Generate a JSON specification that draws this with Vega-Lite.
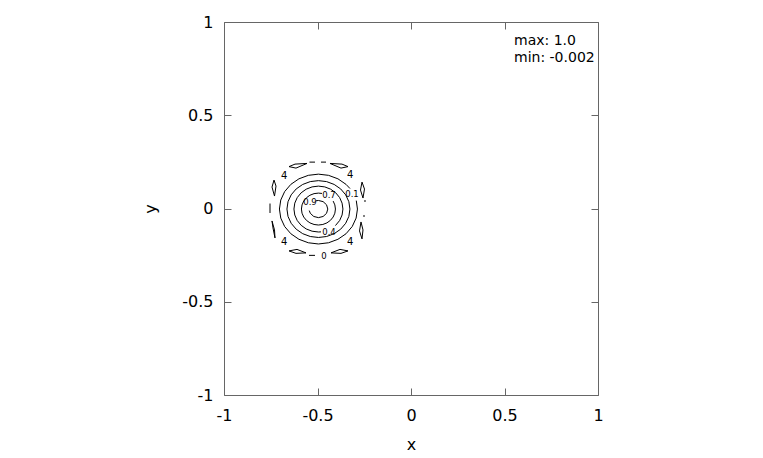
{
  "$schema": "https://vega.github.io/schema/vega-lite/v6.json",
  "width": 374,
  "height": 373,
  "autosize": "none",
  "padding": {"left": 224, "top": 22, "right": 165, "bottom": 63},
  "background": "white",
  "config": {
    "view": {"stroke": "#666", "strokeWidth": 1},
    "font": "DejaVu Sans",
    "axis": {
      "grid": false,
      "domain": false,
      "tickColor": "#666",
      "tickSize": -7,
      "labelFont": "DejaVu Sans",
      "labelFontSize": 16,
      "labelColor": "#000",
      "labelFlush": false,
      "labelOverlap": false,
      "labelExpr": "datum.value + ''",
      "titleFont": "DejaVu Sans",
      "titleFontSize": 16,
      "titleFontWeight": "normal",
      "titleColor": "#000"
    }
  },
  "datasets": {
    "lines": [
      {"c": "c1", "i": 0, "x": -0.3262, "y": 0.1070},
      {"c": "c1", "i": 1, "x": -0.3475, "y": 0.1294},
      {"c": "c1", "i": 2, "x": -0.3907, "y": 0.1591},
      {"c": "c1", "i": 3, "x": -0.4410, "y": 0.1778},
      {"c": "c1", "i": 4, "x": -0.4950, "y": 0.1842},
      {"c": "c1", "i": 5, "x": -0.5490, "y": 0.1778},
      {"c": "c1", "i": 6, "x": -0.5993, "y": 0.1591},
      {"c": "c1", "i": 7, "x": -0.6425, "y": 0.1294},
      {"c": "c1", "i": 8, "x": -0.6757, "y": 0.0906},
      {"c": "c1", "i": 9, "x": -0.6965, "y": 0.0454},
      {"c": "c1", "i": 10, "x": -0.7036, "y": -0.0030},
      {"c": "c1", "i": 11, "x": -0.6965, "y": -0.0514},
      {"c": "c1", "i": 12, "x": -0.6757, "y": -0.0966},
      {"c": "c1", "i": 13, "x": -0.6425, "y": -0.1354},
      {"c": "c1", "i": 14, "x": -0.5993, "y": -0.1651},
      {"c": "c1", "i": 15, "x": -0.5490, "y": -0.1838},
      {"c": "c1", "i": 16, "x": -0.4950, "y": -0.1902},
      {"c": "c1", "i": 17, "x": -0.4410, "y": -0.1838},
      {"c": "c1", "i": 18, "x": -0.3907, "y": -0.1651},
      {"c": "c1", "i": 19, "x": -0.3475, "y": -0.1354},
      {"c": "c1", "i": 20, "x": -0.3143, "y": -0.0966},
      {"c": "c1", "i": 21, "x": -0.2935, "y": -0.0514},
      {"c": "c1", "i": 22, "x": -0.2864, "y": -0.0030},
      {"c": "c1", "i": 23, "x": -0.2926, "y": 0.0423},

      {"c": "c2", "i": 0, "x": -0.3266, "y": -0.0030},
      {"c": "c2", "i": 1, "x": -0.3323, "y": 0.0364},
      {"c": "c2", "i": 2, "x": -0.3492, "y": 0.0732},
      {"c": "c2", "i": 3, "x": -0.3759, "y": 0.1048},
      {"c": "c2", "i": 4, "x": -0.4108, "y": 0.1290},
      {"c": "c2", "i": 5, "x": -0.4514, "y": 0.1442},
      {"c": "c2", "i": 6, "x": -0.4950, "y": 0.1494},
      {"c": "c2", "i": 7, "x": -0.5386, "y": 0.1442},
      {"c": "c2", "i": 8, "x": -0.5792, "y": 0.1290},
      {"c": "c2", "i": 9, "x": -0.6141, "y": 0.1048},
      {"c": "c2", "i": 10, "x": -0.6408, "y": 0.0732},
      {"c": "c2", "i": 11, "x": -0.6577, "y": 0.0364},
      {"c": "c2", "i": 12, "x": -0.6634, "y": -0.0030},
      {"c": "c2", "i": 13, "x": -0.6577, "y": -0.0424},
      {"c": "c2", "i": 14, "x": -0.6408, "y": -0.0792},
      {"c": "c2", "i": 15, "x": -0.6141, "y": -0.1108},
      {"c": "c2", "i": 16, "x": -0.5792, "y": -0.1350},
      {"c": "c2", "i": 17, "x": -0.5386, "y": -0.1502},
      {"c": "c2", "i": 18, "x": -0.4950, "y": -0.1554},
      {"c": "c2", "i": 19, "x": -0.4514, "y": -0.1502},
      {"c": "c2", "i": 20, "x": -0.4108, "y": -0.1350},
      {"c": "c2", "i": 21, "x": -0.3759, "y": -0.1108},
      {"c": "c2", "i": 22, "x": -0.3492, "y": -0.0792},
      {"c": "c2", "i": 23, "x": -0.3323, "y": -0.0424},
      {"c": "c2", "i": 24, "x": -0.3266, "y": -0.0030},

      {"c": "c3", "i": 0, "x": -0.4040, "y": -0.0915},
      {"c": "c3", "i": 1, "x": -0.3816, "y": -0.0645},
      {"c": "c3", "i": 2, "x": -0.3685, "y": -0.0348},
      {"c": "c3", "i": 3, "x": -0.3640, "y": -0.0030},
      {"c": "c3", "i": 4, "x": -0.3685, "y": 0.0288},
      {"c": "c3", "i": 5, "x": -0.3816, "y": 0.0585},
      {"c": "c3", "i": 6, "x": -0.4024, "y": 0.0840},
      {"c": "c3", "i": 7, "x": -0.4295, "y": 0.1035},
      {"c": "c3", "i": 8, "x": -0.4611, "y": 0.1158},
      {"c": "c3", "i": 9, "x": -0.4950, "y": 0.1200},
      {"c": "c3", "i": 10, "x": -0.5289, "y": 0.1158},
      {"c": "c3", "i": 11, "x": -0.5605, "y": 0.1035},
      {"c": "c3", "i": 12, "x": -0.5876, "y": 0.0840},
      {"c": "c3", "i": 13, "x": -0.6084, "y": 0.0585},
      {"c": "c3", "i": 14, "x": -0.6215, "y": 0.0288},
      {"c": "c3", "i": 15, "x": -0.6260, "y": -0.0030},
      {"c": "c3", "i": 16, "x": -0.6215, "y": -0.0348},
      {"c": "c3", "i": 17, "x": -0.6084, "y": -0.0645},
      {"c": "c3", "i": 18, "x": -0.5876, "y": -0.0900},
      {"c": "c3", "i": 19, "x": -0.5605, "y": -0.1095},
      {"c": "c3", "i": 20, "x": -0.5289, "y": -0.1218},
      {"c": "c3", "i": 21, "x": -0.4950, "y": -0.1260},
      {"c": "c3", "i": 22, "x": -0.4813, "y": -0.1253},

      {"c": "c4", "i": 0, "x": -0.4761, "y": 0.0807},
      {"c": "c4", "i": 1, "x": -0.4950, "y": 0.0826},
      {"c": "c4", "i": 2, "x": -0.5185, "y": 0.0797},
      {"c": "c4", "i": 3, "x": -0.5405, "y": 0.0711},
      {"c": "c4", "i": 4, "x": -0.5593, "y": 0.0575},
      {"c": "c4", "i": 5, "x": -0.5737, "y": 0.0398},
      {"c": "c4", "i": 6, "x": -0.5828, "y": 0.0192},
      {"c": "c4", "i": 7, "x": -0.5859, "y": -0.0030},
      {"c": "c4", "i": 8, "x": -0.5828, "y": -0.0252},
      {"c": "c4", "i": 9, "x": -0.5737, "y": -0.0458},
      {"c": "c4", "i": 10, "x": -0.5593, "y": -0.0635},
      {"c": "c4", "i": 11, "x": -0.5405, "y": -0.0771},
      {"c": "c4", "i": 12, "x": -0.5185, "y": -0.0857},
      {"c": "c4", "i": 13, "x": -0.4950, "y": -0.0886},
      {"c": "c4", "i": 14, "x": -0.4715, "y": -0.0857},
      {"c": "c4", "i": 15, "x": -0.4495, "y": -0.0771},
      {"c": "c4", "i": 16, "x": -0.4307, "y": -0.0635},
      {"c": "c4", "i": 17, "x": -0.4163, "y": -0.0458},
      {"c": "c4", "i": 18, "x": -0.4072, "y": -0.0252},
      {"c": "c4", "i": 19, "x": -0.4041, "y": -0.0030},
      {"c": "c4", "i": 20, "x": -0.4072, "y": 0.0192},
      {"c": "c4", "i": 21, "x": -0.4163, "y": 0.0398},

      {"c": "c5", "i": 0, "x": -0.5442, "y": -0.0110},
      {"c": "c5", "i": 1, "x": -0.5383, "y": -0.0260},
      {"c": "c5", "i": 2, "x": -0.5200, "y": -0.0428},
      {"c": "c5", "i": 3, "x": -0.4950, "y": -0.0490},
      {"c": "c5", "i": 4, "x": -0.4700, "y": -0.0428},
      {"c": "c5", "i": 5, "x": -0.4517, "y": -0.0260},
      {"c": "c5", "i": 6, "x": -0.4450, "y": -0.0030},
      {"c": "c5", "i": 7, "x": -0.4517, "y": 0.0200},
      {"c": "c5", "i": 8, "x": -0.4700, "y": 0.0368},
      {"c": "c5", "i": 9, "x": -0.4950, "y": 0.0430},
      {"c": "c5", "i": 10, "x": -0.5079, "y": 0.0414},

      {"c": "L1", "i": 0, "x": -0.6524, "y": 0.2246},
      {"c": "L1", "i": 1, "x": -0.6203, "y": 0.2380},
      {"c": "L1", "i": 2, "x": -0.5561, "y": 0.2417},
      {"c": "L1", "i": 3, "x": -0.6150, "y": 0.2166},
      {"c": "L1", "i": 4, "x": -0.6524, "y": 0.2246},

      {"c": "L2", "i": 0, "x": -0.3369, "y": 0.2246},
      {"c": "L2", "i": 1, "x": -0.3690, "y": 0.2380},
      {"c": "L2", "i": 2, "x": -0.4332, "y": 0.2417},
      {"c": "L2", "i": 3, "x": -0.3743, "y": 0.2166},
      {"c": "L2", "i": 4, "x": -0.3369, "y": 0.2246},

      {"c": "D1", "i": 0, "x": -0.5428, "y": 0.2487},
      {"c": "D1", "i": 1, "x": -0.5134, "y": 0.2487},
      {"c": "D2", "i": 0, "x": -0.4813, "y": 0.2487},
      {"c": "D2", "i": 1, "x": -0.4545, "y": 0.2487},

      {"c": "L3", "i": 0, "x": -0.7326, "y": 0.1524},
      {"c": "L3", "i": 1, "x": -0.7219, "y": 0.1203},
      {"c": "L3", "i": 2, "x": -0.7299, "y": 0.0668},
      {"c": "L3", "i": 3, "x": -0.7433, "y": 0.1150},
      {"c": "L3", "i": 4, "x": -0.7326, "y": 0.1524},

      {"c": "D3", "i": 0, "x": -0.7540, "y": 0.0267},
      {"c": "D3", "i": 1, "x": -0.7540, "y": -0.0241},

      {"c": "L4", "i": 0, "x": -0.7433, "y": -0.0668},
      {"c": "L4", "i": 1, "x": -0.7299, "y": -0.1150},
      {"c": "L4", "i": 2, "x": -0.7273, "y": -0.1578},
      {"c": "L4", "i": 3, "x": -0.7380, "y": -0.1043},
      {"c": "L4", "i": 4, "x": -0.7433, "y": -0.0668},

      {"c": "L5", "i": 0, "x": -0.6524, "y": -0.2273},
      {"c": "L5", "i": 1, "x": -0.6096, "y": -0.2193},
      {"c": "L5", "i": 2, "x": -0.5615, "y": -0.2380},
      {"c": "L5", "i": 3, "x": -0.6150, "y": -0.2406},
      {"c": "L5", "i": 4, "x": -0.6524, "y": -0.2273},

      {"c": "D4", "i": 0, "x": -0.5455, "y": -0.2513},
      {"c": "D4", "i": 1, "x": -0.5134, "y": -0.2513},

      {"c": "L6", "i": 0, "x": -0.3369, "y": -0.2273},
      {"c": "L6", "i": 1, "x": -0.3797, "y": -0.2193},
      {"c": "L6", "i": 2, "x": -0.4278, "y": -0.2380},
      {"c": "L6", "i": 3, "x": -0.3743, "y": -0.2406},
      {"c": "L6", "i": 4, "x": -0.3369, "y": -0.2273},

      {"c": "L7", "i": 0, "x": -0.2620, "y": 0.1417},
      {"c": "L7", "i": 1, "x": -0.2487, "y": 0.1043},
      {"c": "L7", "i": 2, "x": -0.2567, "y": 0.0561},
      {"c": "L7", "i": 3, "x": -0.2701, "y": 0.0989},
      {"c": "L7", "i": 4, "x": -0.2620, "y": 0.1417},

      {"c": "R1", "i": 0, "x": -0.2460, "y": 0.0455},
      {"c": "R1", "i": 1, "x": -0.2460, "y": 0.0348},
      {"c": "R2", "i": 0, "x": -0.2513, "y": -0.0348},
      {"c": "R2", "i": 1, "x": -0.2513, "y": -0.0455},

      {"c": "L8", "i": 0, "x": -0.2674, "y": -0.0722},
      {"c": "L8", "i": 1, "x": -0.2567, "y": -0.1150},
      {"c": "L8", "i": 2, "x": -0.2620, "y": -0.1631},
      {"c": "L8", "i": 3, "x": -0.2754, "y": -0.1203},
      {"c": "L8", "i": 4, "x": -0.2674, "y": -0.0722}
    ],
    "levelLabels": [
      {"t": "0.1", "x": -0.3155, "y": 0.0775},
      {"t": "0.4", "x": -0.4385, "y": -0.1257},
      {"t": "0.7", "x": -0.4385, "y": 0.0722},
      {"t": "0.9", "x": -0.5400, "y": 0.0348},
      {"t": "0", "x": -0.4652, "y": -0.2540}
    ],
    "minorLabels": [
      {"t": "4", "x": -0.6775, "y": 0.1754},
      {"t": "4", "x": -0.3246, "y": 0.1791},
      {"t": "4", "x": -0.6775, "y": -0.1807},
      {"t": "4", "x": -0.3246, "y": -0.1807}
    ],
    "stats": [
      {"t": "max: 1.0", "x": 0.5508, "y": 0.877},
      {"t": "min: -0.002", "x": 0.5508, "y": 0.786}
    ]
  },
  "layer": [
    {
      "data": {"name": "lines"},
      "mark": {"type": "line", "color": "#000", "strokeWidth": 1},
      "encoding": {
        "x": {"field": "x", "type": "quantitative", "scale": {"domain": [-1, 1], "nice": false, "zero": false},
              "axis": {"orient": "bottom", "values": [-1, -0.5, 0, 0.5, 1], "title": "x", "labelPadding": 19, "titlePadding": 13}},
        "y": {"field": "y", "type": "quantitative", "scale": {"domain": [-1, 1], "nice": false, "zero": false},
              "axis": {"orient": "left", "values": [-1, -0.5, 0, 0.5, 1], "title": "y", "labelPadding": 18, "titlePadding": 23}},
        "detail": {"field": "c"},
        "order": {"field": "i"}
      }
    },
    {
      "data": {"name": "stats"},
      "mark": {"type": "point", "opacity": 0},
      "encoding": {
        "x": {"field": "x", "type": "quantitative", "axis": {"orient": "top", "values": [-1, -0.5, 0, 0.5, 1], "labels": false, "title": null}},
        "y": {"field": "y", "type": "quantitative", "axis": {"orient": "right", "values": [-1, -0.5, 0, 0.5, 1], "labels": false, "title": null}}
      }
    },
    {
      "data": {"name": "levelLabels"},
      "mark": {"type": "text", "font": "DejaVu Sans", "fontSize": 8.5, "color": "#000", "align": "center", "baseline": "middle"},
      "encoding": {
        "x": {"field": "x", "type": "quantitative", "axis": null},
        "y": {"field": "y", "type": "quantitative", "axis": null},
        "text": {"field": "t"}
      }
    },
    {
      "data": {"name": "minorLabels"},
      "mark": {"type": "text", "font": "DejaVu Sans", "fontSize": 10, "color": "#000", "align": "center", "baseline": "middle"},
      "encoding": {
        "x": {"field": "x", "type": "quantitative", "axis": null},
        "y": {"field": "y", "type": "quantitative", "axis": null},
        "text": {"field": "t"}
      }
    },
    {
      "data": {"name": "stats"},
      "mark": {"type": "text", "font": "DejaVu Sans", "fontSize": 14, "color": "#000", "align": "left", "baseline": "alphabetic"},
      "encoding": {
        "x": {"field": "x", "type": "quantitative", "axis": null},
        "y": {"field": "y", "type": "quantitative", "axis": null},
        "text": {"field": "t"}
      }
    }
  ],
  "resolve": {"axis": {"x": "independent", "y": "independent"}}
}
